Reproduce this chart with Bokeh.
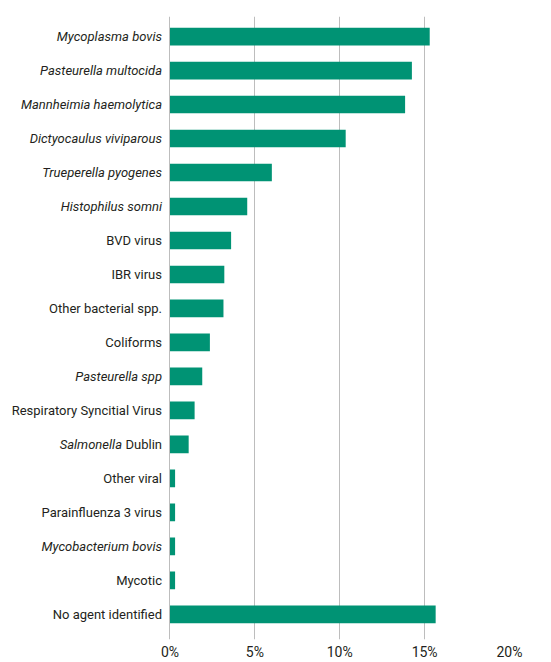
from bokeh.plotting import figure
from bokeh.models import Range1d, ColumnDataSource, FixedTicker, CustomJSTickFormatter
from bokeh.core.properties import value
from bokeh.embed import file_html
from bokeh.resources import INLINE

categories = ["Mycoplasma bovis", "Pasteurella multocida", "Mannheimia haemolytica",
              "Dictyocaulus viviparous", "Trueperella pyogenes", "Histophilus somni",
              "BVD virus", "IBR virus", "Other bacterial spp.", "Coliforms",
              "Pasteurella spp", "Respiratory Syncitial Virus", "Salmonella Dublin",
              "Other viral", "Parainfluenza 3 virus", "Mycobacterium bovis",
              "Mycotic", "No agent identified"]
values = [15.3, 14.25, 13.85, 10.35, 6.0, 4.55, 3.6, 3.2, 3.15, 2.35, 1.9, 1.45,
          1.1, 0.3, 0.3, 0.3, 0.3, 15.65]
italic = [True, True, True, True, True, True, False, False, False, False,
          True, False, None, False, False, True, False, False]
x_ticks = [0, 5, 10, 15, 20]

FONT = "Roboto"
GREEN = "#009374"
TEXT = "#231f20"

pos = list(range(len(categories)))

p = figure(width=551, height=662, output_backend="svg", toolbar_location=None,
           x_range=Range1d(-9.985, 20), y_range=Range1d(17.74, -0.59),
           min_border_left=0, min_border_right=42, min_border_top=16, min_border_bottom=16)
p.outline_line_color = None
p.background_fill_color = "white"
p.border_fill_color = "white"

src = ColumnDataSource(dict(y=pos, v=values))
p.hbar(y="y", right="v", left=0, height=0.52, source=src, color=GREEN, line_color=None)

p.ygrid.visible = False
p.xgrid.grid_line_color = "#bdbdbd"
p.xgrid.grid_line_width = 1
p.xgrid.ticker = FixedTicker(ticks=x_ticks)
p.yaxis.visible = False

p.xaxis.ticker = FixedTicker(ticks=x_ticks)
p.xaxis.formatter = CustomJSTickFormatter(code="return tick + '%';")
p.xaxis.axis_line_color = None
p.xaxis.major_tick_line_color = None
p.xaxis.minor_tick_line_color = None
p.xaxis.major_tick_out = 0
p.xaxis.major_tick_in = 0
p.xaxis.major_label_standoff = 4
p.xaxis.major_label_text_font = FONT
p.xaxis.major_label_text_font_size = "14px"
p.xaxis.major_label_text_color = TEXT

# labels
reg_y, reg_t, it_y, it_t = [], [], [], []
for i, (c, it) in enumerate(zip(categories, italic)):
    if it is None:
        continue
    if it:
        it_y.append(i); it_t.append(c)
    else:
        reg_y.append(i); reg_t.append(c)

common = dict(x_offset=-8, text_align="right", text_baseline="middle",
              text_font=value(FONT), text_font_size="13px", text_color=TEXT)
p.text(x=[0] * len(reg_y), y=reg_y, text=reg_t, **common)
p.text(x=[0] * len(it_y), y=it_y, text=it_t, text_font_style="italic", **common)

si = italic.index(None)
p.text(x=[0], y=[si], text=["Dublin"], **common)
c2 = dict(common); c2["x_offset"] = -48
p.text(x=[0], y=[si], text=["Salmonella"], text_font_style="italic", **c2)

open("out.html", "w").write(file_html(p, INLINE))
